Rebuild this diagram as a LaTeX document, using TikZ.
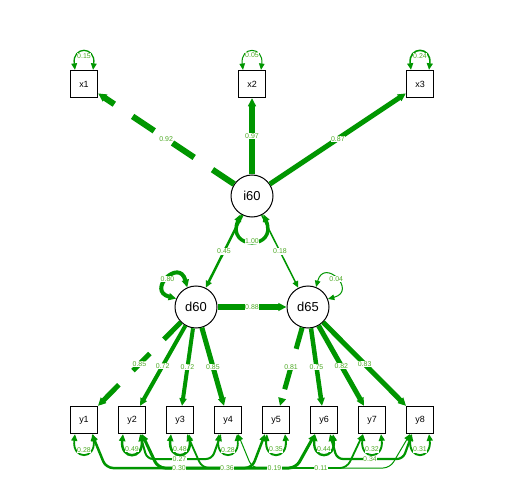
\documentclass[tikz,border=0pt]{standalone}
\usepackage{fontspec}
\setmainfont{Liberation Sans}
\usetikzlibrary{arrows.meta}
\definecolor{semgreen}{RGB}{0,150,0}
\definecolor{lblgreen}{RGB}{80,170,40}

\begin{document}
\begin{tikzpicture}[x=1bp,y=-1bp,
    obs/.style={draw, line width=1.2bp, minimum size=27bp, inner sep=0pt, font=\fontsize{9}{10}\selectfont},
    lat/.style={draw, circle, line width=1bp, minimum size=42bp, inner sep=0pt, font=\fontsize{13}{14}\selectfont},
    regr/.style={semgreen, -{Triangle[length=6bp 0.4, width=5bp 0.5]}},
    covar/.style={semgreen, {Triangle[length=6bp 0.4, width=5bp 0.5]}-{Triangle[length=6bp 0.4, width=5bp 0.5]}},
    lbl/.style={fill=white, inner sep=0.6bp, text=lblgreen, font=\fontsize{7}{8}\selectfont}]
  \fill[white] (0,0) rectangle (504,504);
  \useasboundingbox (0,0) rectangle (504,504);

  \node[obs] (x1) at (84,84) {x1};
  \node[obs] (x2) at (252,84) {x2};
  \node[obs] (x3) at (420,84) {x3};
  \node[lat] (i60) at (252,196) {i60};
  \node[lat] (d60) at (196,307) {d60};
  \node[lat] (d65) at (308,307) {d65};
  \foreach \i in {1,...,8}
    \node[obs] (y\i) at (36+48*\i,420) {y\i};

  \draw[regr, line width=6bp, dash pattern=on 26bp off 22bp] (i60) -- node[lbl]{0.92} (x1);
  \draw[regr, line width=5.5bp] (i60) -- node[lbl]{0.97} (x2);
  \draw[regr, line width=5bp] (i60) -- node[lbl]{0.87} (x3);

  \draw[regr, line width=2.5bp] (i60) -- node[lbl]{0.45} (d60);
  \draw[regr, line width=1.5bp] (i60) -- node[lbl]{0.18} (d65);
  \draw[regr, line width=5.5bp] (d60) -- node[lbl]{0.88} (d65);

  \draw[regr, line width=5bp, dash pattern=on 24bp off 20bp] (d60) -- node[lbl]{0.85} (y1);
  \draw[regr, line width=4bp] (d60) -- node[lbl]{0.72} (y2);
  \draw[regr, line width=4bp] (d60) -- node[lbl]{0.72} (y3);
  \draw[regr, line width=5bp] (d60) -- node[lbl]{0.85} (y4);
  \draw[regr, line width=5bp, dash pattern=on 22bp off 20bp] (d65) -- node[lbl]{0.81} (y5);
  \draw[regr, line width=4.5bp] (d65) -- node[lbl]{0.75} (y6);
  \draw[regr, line width=5bp] (d65) -- node[lbl]{0.82} (y7);
  \draw[regr, line width=5bp] (d65) -- node[lbl]{0.83} (y8);

  \draw[covar, line width=3.5bp] (i60.-122) .. controls +(-15,36) and +(15,36) .. node[lbl]{1.00} (i60.-58);
  \draw[covar, line width=4bp] (d60.114) .. controls +(-8,-30) and +(-30,-8) .. node[lbl]{0.80} (d60.157);
  \draw[covar, line width=1bp] (d65.68) .. controls +(8,-30) and +(30,-8) .. node[lbl]{0.04} (d65.22);

  \foreach \n/\v/\w in {x1/0.15/1.3, x2/0.05/1, x3/0.24/1.6}
    \draw[covar, line width=\w bp] ([xshift=-9bp]\n.north) .. controls +(-3,-24) and +(3,-24) .. node[lbl, below=0bp]{\v} ([xshift=9bp]\n.north);
  \foreach \n/\v/\w in {y1/0.28/1.8, y2/0.49/2.5, y3/0.48/2.5, y4/0.28/1.8, y5/0.35/2, y6/0.44/2.3, y7/0.32/1.9, y8/0.31/1.9}
    \draw[covar, line width=\w bp] ([xshift=-9bp]\n.south) .. controls +(-3,26) and +(3,26) .. node[lbl, above=0bp]{\v} ([xshift=9bp]\n.south);

  \draw[covar, line width=2.5bp, rounded corners=7bp] ([xshift=8bp]y1.south) -- (106,468) -- coordinate[midway] (c15) (252,468) -- ([xshift=-11bp]y5.south);
  \draw[covar, line width=2bp, rounded corners=6bp] ([xshift=8bp]y2.south) -- (147,459) -- coordinate[midway] (c24) (212,459) -- ([xshift=-7bp]y4.south);
  \draw[covar, line width=3bp, rounded corners=7bp] ([xshift=10bp]y2.south) -- (158,468) -- coordinate[midway] (c26) (296,468) -- ([xshift=-9bp]y6.south);
  \draw[covar, line width=1.8bp, rounded corners=7bp] ([xshift=7bp]y3.south) -- (202,468) -- coordinate[midway] (c37) (347,468) -- ([xshift=-9bp]y7.south);
  \draw[covar, line width=1bp, rounded corners=7bp] ([xshift=10bp]y4.south) -- (252,468) -- coordinate[midway] (c48) (390,468) -- ([xshift=-10bp]y8.south);
  \draw[covar, line width=2.2bp, rounded corners=6bp] ([xshift=6bp]y6.south) -- (337,459) -- coordinate[midway] (c68) (403,459) -- ([xshift=-8bp]y8.south);
  \foreach \c/\v in {c15/0.30, c24/0.27, c26/0.36, c37/0.19, c48/0.11, c68/0.34}
    \node[lbl] at (\c) {\v};
\end{tikzpicture}
\end{document}
